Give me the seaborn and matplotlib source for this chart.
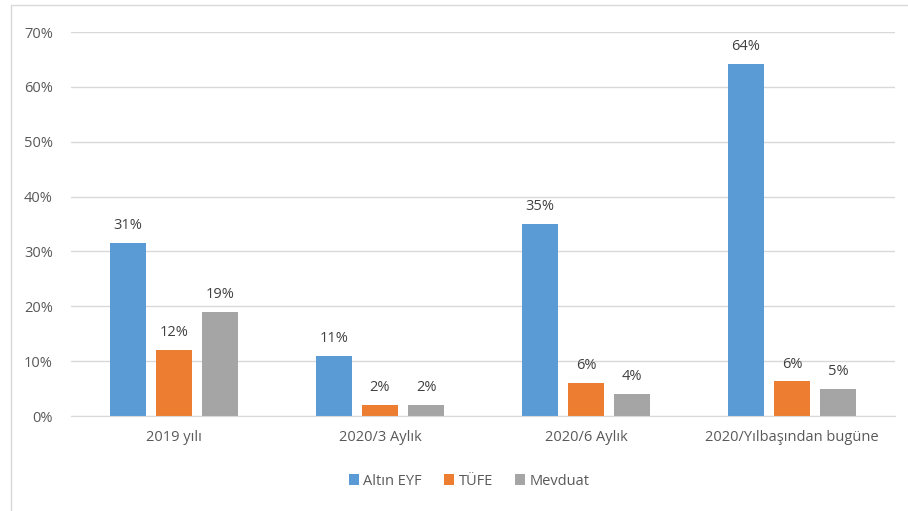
import pandas as pd
import numpy as np
import matplotlib.pyplot as plt
import seaborn as sns
from matplotlib.lines import Line2D

# Chart data
categories = ["2019 yılı", "2020/3 Aylık", "2020/6 Aylık", "2020/Yılbaşından bugüne"]
series = ["Altın EYF", "TÜFE", "Mevduat"]
altin = [31.5, 11.0, 35.0, 64.2]
tufe = [12.0, 2.0, 6.0, 6.3]
mevduat = [19.0, 2.0, 4.0, 5.0]
labels = {
    "Altın EYF": ["31%", "11%", "35%", "64%"],
    "TÜFE": ["12%", "2%", "6%", "6%"],
    "Mevduat": ["19%", "2%", "4%", "5%"],
}
colors = ["#5B9BD5", "#ED7D31", "#A5A5A5"]

df = pd.DataFrame({
    "Kategori": categories * 3,
    "Seri": [s for s in series for _ in categories],
    "Deger": altin + tufe + mevduat,
})

sns.set_style("white")
plt.rcParams["font.family"] = ["Open Sans", "DejaVu Sans"]
text_color = "#595959"

fig = plt.figure(figsize=(9.08, 5.11), dpi=100)
ax = fig.add_axes([71 / 908, 1 - 416 / 511, 824 / 908, 384 / 511])

sns.barplot(
    data=df, x="Kategori", y="Deger", hue="Seri",
    order=categories, hue_order=series,
    palette=colors, width=0.67, gap=0.22,
    saturation=1, linewidth=0, ax=ax, legend=True
)

# Data labels
for cont, s in zip(ax.containers, series):
    ax.bar_label(cont, labels=labels[s], padding=7, fontsize=10.5, color="#404040")

ax.set_ylim(0, 70)
ax.set_yticks(range(0, 71, 10))
ax.set_yticklabels([f"{v}%" for v in range(0, 71, 10)])
ax.set_xlim(-0.5, 3.5)
ax.yaxis.grid(True, color="#D9D9D9", linewidth=1)
ax.set_axisbelow(True)
ax.set_xlabel("")
ax.set_ylabel("")
ax.tick_params(axis="both", length=0, labelsize=10.5, colors=text_color)
ax.tick_params(axis="y", pad=13)
ax.tick_params(axis="x", pad=10)
for side in ["top", "right", "left"]:
    ax.spines[side].set_visible(False)
ax.spines["bottom"].set_color("#D9D9D9")

# Legend at bottom
handles, _ = ax.get_legend_handles_labels()
ax.legend_.remove()
fig.legend(
    handles, series, loc="center", bbox_to_anchor=(469 / 908, 1 - 481 / 511),
    ncol=3, frameon=False, fontsize=10.5, labelcolor=text_color,
    handlelength=0.7, handleheight=0.7, handletextpad=0.3, columnspacing=1.5
)

# Outer chart frame (top and left edges)
fig.add_artist(Line2D([11 / 908, 1], [1 - 5 / 511, 1 - 5 / 511], color="#D9D9D9", linewidth=1))
fig.add_artist(Line2D([11 / 908, 11 / 908], [0, 1 - 5 / 511], color="#D9D9D9", linewidth=1))

fig.savefig("out.png", dpi=100, facecolor="white")
